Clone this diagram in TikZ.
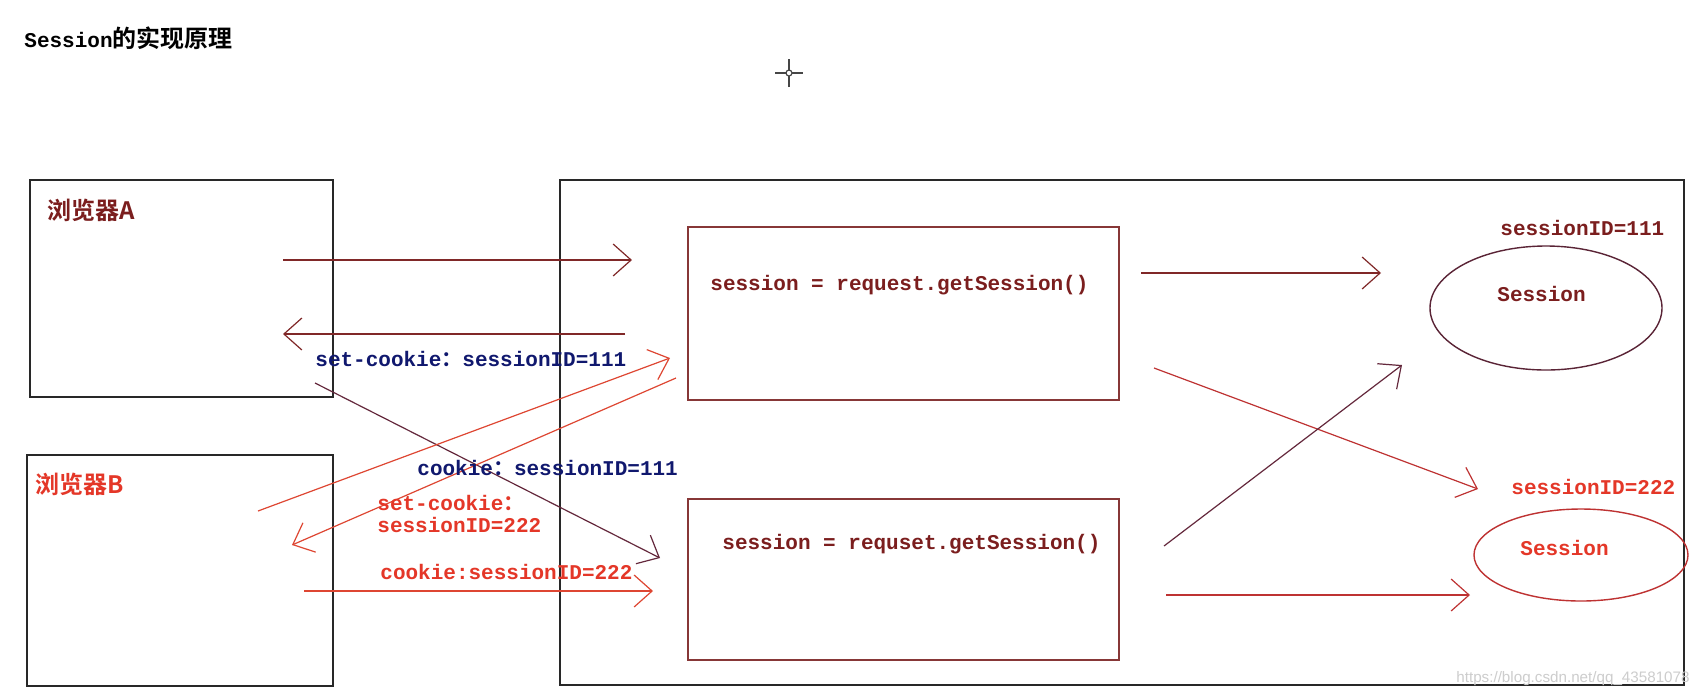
\documentclass[tikz,border=0pt]{standalone}
\usepackage{fontspec}
\newfontfamily\mono{Liberation Mono}
\newfontfamily\wsans{Liberation Sans}
\newfontfamily\cjk{Noto Sans CJK SC}[BoldFont={* Bold}]
\usetikzlibrary{arrows.meta}
\definecolor{maroonT}{RGB}{123,30,30}
\definecolor{navyT}{RGB}{16,24,110}
\definecolor{redT}{RGB}{228,55,40}
\definecolor{boxM}{RGB}{135,55,55}
\definecolor{arrM}{RGB}{128,40,40}
\definecolor{arrD}{RGB}{100,40,60}
\definecolor{arrR}{RGB}{222,70,50}
\definecolor{arrS}{RGB}{190,50,50}
\definecolor{outerC}{RGB}{40,40,40}
\definecolor{curC}{RGB}{70,70,70}
\definecolor{wmark}{RGB}{205,205,205}
\tikzset{
  txt/.style={inner sep=0pt, anchor=west, font=\mono\bfseries\fontsize{10.5}{12}\selectfont},
  outerbox/.style={draw=outerC, line width=0.75pt},
  innerbox/.style={draw=boxM, line width=0.8pt, anchor=north west, inner sep=0pt},
  conn/.style={line width=0.6pt, -{Straight Barb[length=9pt,width=16pt,line width=0.6pt]}},
}
\begin{document}
\begin{tikzpicture}[x=0.5pt,y=-0.5pt]
\useasboundingbox[fill=white] (0,0) rectangle (1699,698);
% title
\node[txt, text=black] (title) at (24,38) {Session{\cjk\bfseries\fontsize{12}{14}\selectfont 的实现原理}};
% crosshair (cursor)
\coordinate (cur) at (789,73);
\draw[curC, line width=0.6pt] ([xshift=-7pt]cur) -- ([xshift=-1.5pt]cur) ([xshift=1.5pt]cur) -- ([xshift=7pt]cur)
  ([yshift=-7pt]cur) -- ([yshift=-1.5pt]cur) ([yshift=1.5pt]cur) -- ([yshift=7pt]cur);
\draw[curC, line width=0.6pt] (cur) circle[radius=3];
% browser boxes
\draw[outerbox] (30,180) rectangle (333,397);
\node[txt, text=maroonT, font=\cjk\bfseries\fontsize{12}{14}\selectfont] (la) at (47,210) {浏览器A};
\draw[outerbox] (27,455) rectangle (333,686);
\node[txt, text=redT, font=\cjk\bfseries\fontsize{12}{14}\selectfont] (lb) at (35,484) {浏览器B};
% server box
\draw[outerbox] (560,180) rectangle (1684,685);
% inner boxes
\node[innerbox, minimum width=215.5pt, minimum height=86.5pt] (req1) at (687,226) {};
\node[innerbox, minimum width=215.5pt, minimum height=80.5pt] (req2) at (687,498) {};
\node[txt, text=maroonT] (t1) at (710,285) {session = request.getSession()};
\node[txt, text=maroonT] (t2) at (722,544) {session = requset.getSession()};
% sessions
\draw[draw=arrD!90!black, line width=0.7pt] (1546,308) ellipse[x radius=116, y radius=62];
\coordinate (s1) at (1546,308);
\node[txt, text=maroonT] (st1) at (1497,294) {Session};
\node[txt, text=maroonT] (id1) at (1500,228) {sessionID=111};
\draw[draw=arrS, line width=0.7pt] (1581,555) ellipse[x radius=107, y radius=46];
\coordinate (s2) at (1581,555);
\node[txt, text=redT] (st2) at (1520,548) {Session};
\node[txt, text=redT] (id2) at (1511,487) {sessionID=222};
% connector end points
\coordinate (a1s) at (283,260); \coordinate (a1e) at (632,260);
\coordinate (a2s) at (625,334); \coordinate (a2e) at (283,334);
\coordinate (a4s) at (315,383); \coordinate (a4e) at (660,558);
\coordinate (a5s) at (258,511); \coordinate (a5e) at (670,358);
\coordinate (a6s) at (676,378); \coordinate (a6e) at (292,545);
\coordinate (a9s) at (304,591); \coordinate (a9e) at (653,591);
\coordinate (b1s) at (1141,273); \coordinate (b1e) at (1381,273);
\coordinate (b2s) at (1154,368); \coordinate (b2e) at (1478,489);
\coordinate (b3s) at (1164,546); \coordinate (b3e) at (1402,365);
\coordinate (b4s) at (1166,595); \coordinate (b4e) at (1470,595);
% connectors
\draw[conn, arrM] (a1s) -- (a1e);
\draw[conn, arrM] (a2s) -- (a2e);
\draw[conn, arrD] (a4s) -- (a4e);
\draw[conn, arrR] (a5s) -- (a5e);
\draw[conn, arrR] (a6s) -- (a6e);
\draw[conn, arrR] (a9s) -- (a9e);
\draw[conn, arrM] (b1s) -- (b1e);
\draw[conn, arrS] (b2s) -- (b2e);
\draw[conn, arrD] (b3s) -- (b3e);
\draw[conn, arrS] (b4s) -- (b4e);
% labels
\node[txt, text=navyT] (l1) at (315,359) {set-cookie{\cjk\bfseries ：}sessionID=111};
\node[txt, text=navyT] (l2) at (417,468) {cookie{\cjk\bfseries ：}sessionID=111};
\node[txt, text=redT] (l3) at (377,503) {set-cookie{\cjk\bfseries ：}};
\node[txt, text=redT] (l4) at (377,525) {sessionID=222};
\node[txt, text=redT] (l5) at (380,572) {cookie:sessionID=222};
% watermark
\node[inner sep=0pt, anchor=east, text=wmark, font=\wsans\fontsize{7.6}{9}\selectfont] (wm) at (1690,679) {https://blog.csdn.net/qq\_43581078};
\end{tikzpicture}
\end{document}
